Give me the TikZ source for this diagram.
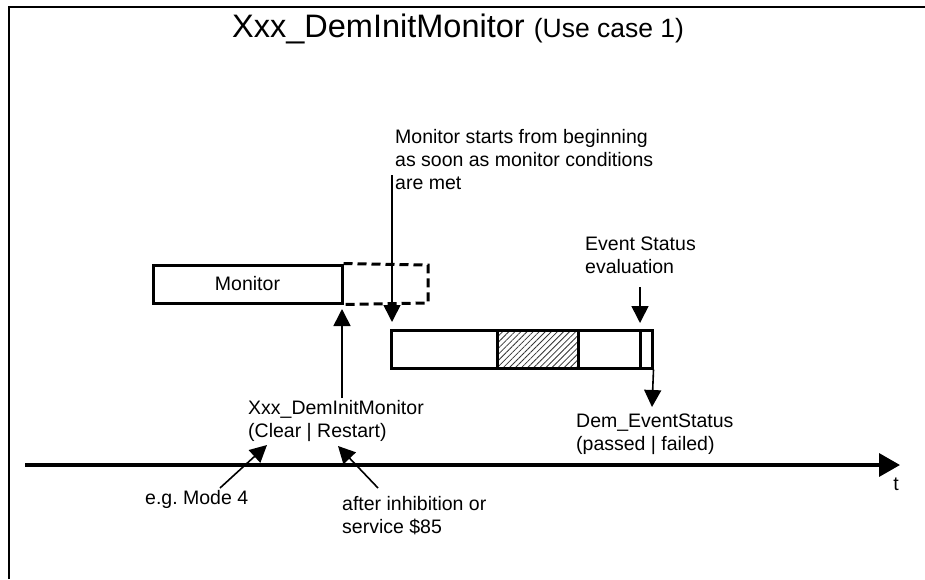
\documentclass[tikz,border=0pt]{standalone}
\usepackage{fontspec}
\setmainfont{Liberation Sans}
\usetikzlibrary{arrows.meta,patterns.meta}
\begin{document}
\begin{tikzpicture}[x=1pt,y=-1pt,
  txt/.style={font=\fontsize{19.5}{23}\selectfont, inner sep=0pt, align=left, anchor=west},
  boxed/.style={draw, line width=3pt, inner sep=0pt},
  arr/.style={line width=1.6pt, -{Triangle[width=17pt,length=17pt]}},
]
\useasboundingbox (0,0) rectangle (925,579);
% frame
\draw[line width=1.6pt] (9,579) -- (9,7) -- (925,7);
% title
\node[anchor=base west, inner sep=0pt] (title) at (232,37)
  {\fontsize{32.5}{36}\selectfont Xxx\_DemInitMonitor \fontsize{26.5}{30}\selectfont(Use case 1)};
% monitor box
\node[boxed, minimum width=189pt, minimum height=38pt, font=\fontsize{19.5}{23}\selectfont] (mon) at (247.5,284) {Monitor};
\coordinate (dne) at (428,265);
\coordinate (dse) at (428,303);
\draw[line width=3pt, dash pattern=on 9pt off 5pt] (mon.north east) -- (dne) -- (dse) -- (mon.south east);
% event box
\fill[pattern={Lines[angle=45,distance=4.3pt,line width=0.8pt]}, pattern color=black!80] (497,330) rectangle (578,368);
\node[boxed, minimum width=261pt, minimum height=38pt] (ev) at (521.5,349) {};
\draw[line width=3pt] (497,330) -- (497,368) (578,330) -- (578,368) (640,330) -- (640,368);
% texts
\node[txt] (start) at (395,160) {Monitor starts from beginning\\as soon as monitor conditions\\are met};
\node[txt] (evs) at (585,255) {Event Status\\evaluation};
\node[txt] (init) at (248,421) {Xxx\_DemInitMonitor\\(Clear | Restart)};
\node[txt] (dem) at (576,434) {Dem\_EventStatus\\(passed | failed)};
\node[txt] (mode) at (145,499) {e.g.\ Mode 4};
\node[txt] (inh) at (342,516) {after inhibition or\\service \$85};
\node[font=\fontsize{19.5}{23}\selectfont, inner sep=0pt] (t) at (896,484) {t};
% timeline
\coordinate (tl0) at (25,465);
\coordinate (tl1) at (900,465);
\draw[line width=3.5pt, -{Triangle[width=23pt,length=21pt]}] (tl0) -- (tl1);
% arrows
\coordinate (a1s) at (392,175); \coordinate (a1e) at (392,322);
\draw[arr] (a1s) -- (a1e);
\coordinate (a2s) at (342,398); \coordinate (a2e) at (342,309);
\draw[arr] (a2s) -- (a2e);
\coordinate (a3s) at (640,287); \coordinate (a3e) at (640,323);
\draw[arr] (a3s) -- (a3e);
\coordinate (a4e) at (652,407);
\draw[arr] (ev.south east) -- (a4e);
\coordinate (a5s) at (220,488); \coordinate (a5e) at (267,445);
\draw[arr] (a5s) -- (a5e);
\coordinate (a6s) at (378,488); \coordinate (a6e) at (338,446);
\draw[arr] (a6s) -- (a6e);
\end{tikzpicture}
\end{document}
